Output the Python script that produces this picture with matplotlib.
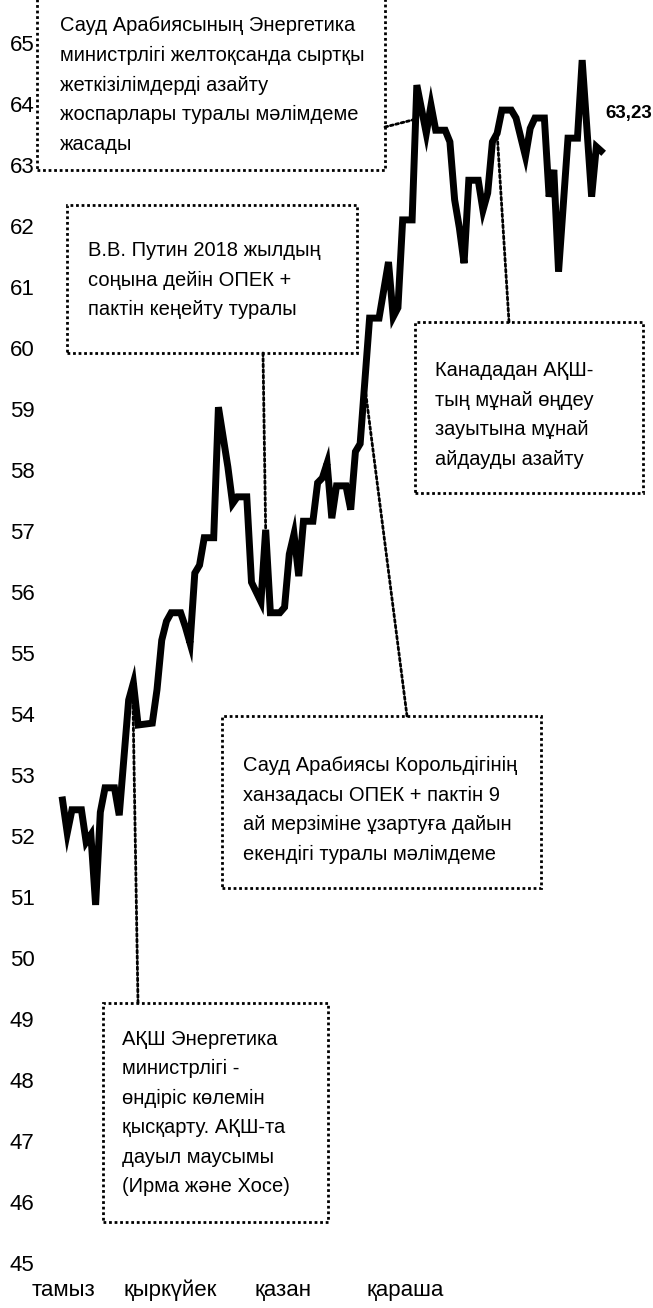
import matplotlib
matplotlib.use('Agg')
import matplotlib.pyplot as plt
from matplotlib.patches import Rectangle, ConnectionPatch

plt.rcParams['font.family'] = ['Liberation Sans Narrow', 'Liberation Sans', 'DejaVu Sans']

# Brent, USD/bbl (calendar-day index from start of series)
days = [0, 1, 2, 4, 5, 6, 7, 8, 9, 11, 12, 14, 15, 16, 19, 20, 21, 22, 23, 25,
        26, 27, 28, 29, 30, 32, 33, 35, 36, 37, 39, 40, 42, 43, 44, 46, 47, 48,
        49, 50, 51, 53, 54, 55, 56, 57, 58, 60, 61, 62, 63, 65, 67, 69, 70, 71,
        72, 74, 75, 77, 78, 79, 81, 82, 83, 84, 85, 86, 88, 89, 90, 91, 92, 93,
        95, 96, 98, 99, 100, 102, 103, 104, 105, 107, 109, 110, 112, 113, 114]
brent = [52.59, 52.05, 52.43, 52.43, 51.90, 52.02, 50.87, 52.39, 52.79, 52.79,
         52.34, 54.23, 54.51, 53.82, 53.85, 54.40, 55.21, 55.52, 55.66, 55.66,
         55.43, 55.16, 56.31, 56.44, 56.89, 56.89, 59.03, 58.05, 57.45, 57.56,
         57.56, 56.16, 55.84, 57.02, 55.66, 55.66, 55.75, 56.62, 56.95, 56.26,
         57.16, 57.16, 57.79, 57.87, 58.11, 57.21, 57.74, 57.74, 57.35, 58.30,
         58.43, 60.49, 60.49, 61.41, 60.51, 60.66, 62.10, 62.10, 64.31, 63.52,
         63.98, 63.57, 63.57, 63.38, 62.43, 61.97, 61.39, 62.75, 62.75, 62.26,
         62.54, 63.38, 63.52, 63.90, 63.90, 63.77, 63.14, 63.60, 63.77, 63.77,
         62.48, 62.92, 61.25, 63.44, 63.44, 64.72, 62.48, 63.30, 63.23]

month_labels = ['тамыз', 'қыркүйек', 'қазан', 'қараша']
month_pos = [0.3, 22.7, 46.7, 72.5]
yticks = list(range(45, 66))
last_label = '63,23'

notes = [
    'Сауд Арабиясының Энергетика\nминистрлігі желтоқсанда сыртқы\nжеткізілімдерді азайту\nжоспарлары туралы мәлімдеме\nжасады',
    'В.В. Путин 2018 жылдың\nсоңына дейін ОПЕК +\nпактін кеңейту туралы',
    'Канададан АҚШ-\nтың мұнай өңдеу\nзауытына мұнай\nайдауды азайту',
    'Сауд Арабиясы Корольдігінің\nханзадасы ОПЕК + пактін 9\nай мерзіміне ұзартуға дайын\nекендігі туралы мәлімдеме',
    'АҚШ Энергетика\nминистрлігі -\nөндіріс көлемін\nқысқарту. АҚШ-та\nдауыл маусымы\n(Ирма және Хосе)',
]

W, H = 653, 1308
def fx(x):
    return x / W
def fy(y):
    return 1 - y / H

# box (left, top, right, bottom) in px, text anchor (x, y centre), connector start px, connector end in data
boxes = [(37, -10, 385, 170), (67, 205, 357, 353), (415, 322, 643, 493),
         (222, 716, 541, 888), (103, 1003, 328, 1222)]
text_at = [(60, 85), (88, 280), (435, 415), (243, 810), (122, 1113)]
conn_from = [(385, 127), (263, 353), (509, 322), (407, 716), (138, 1003)]
conn_to = [(74.7, 63.75), (43, 57.02), (92, 63.52), (64.2, 59.25), (14.9, 54.25)]

fig = plt.figure(figsize=(6.53, 13.08), dpi=100)
ax = fig.add_axes([fx(40), fy(1263), fx(645) - fx(40), fy(43) - fy(1263)])
ax.plot(days, brent, color='black', lw=5, solid_joinstyle='miter')
ax.set_xlim(-4.77, 123.3)
ax.set_ylim(45, 65)
ax.set_yticks(yticks)
ax.set_yticklabels([str(v) for v in yticks])
ax.set_xticks(month_pos)
ax.set_xticklabels(month_labels)
ax.tick_params(length=0, labelsize=16)
ax.tick_params(axis='y', pad=4)
ax.tick_params(axis='x', pad=12)
for s in ax.spines.values():
    s.set_visible(False)

ax.annotate(last_label, xy=(days[-1], brent[-1]), xytext=(3, 27),
            textcoords='offset points', fontsize=13.5, fontweight='bold',
            ha='left', va='center')

for (l, t, r, b), (tx, ty), c0, c1, txt in zip(boxes, text_at, conn_from, conn_to, notes):
    fig.patches.append(Rectangle((fx(l), fy(b)), fx(r) - fx(l), fy(t) - fy(b),
                                 transform=fig.transFigure, fill=False,
                                 edgecolor='black', lw=2, linestyle=(0, (1, 1))))
    fig.text(fx(tx), fy(ty), txt, ha='left', va='center', fontsize=14.5,
             linespacing=1.7)
    cp = ConnectionPatch(xyA=(fx(c0[0]), fy(c0[1])), coordsA='figure fraction',
                         xyB=c1, coordsB='data', axesB=ax,
                         color='black', lw=2, linestyle=(0, (1, 1)))
    fig.add_artist(cp)

fig.savefig('out.png', dpi=100)
